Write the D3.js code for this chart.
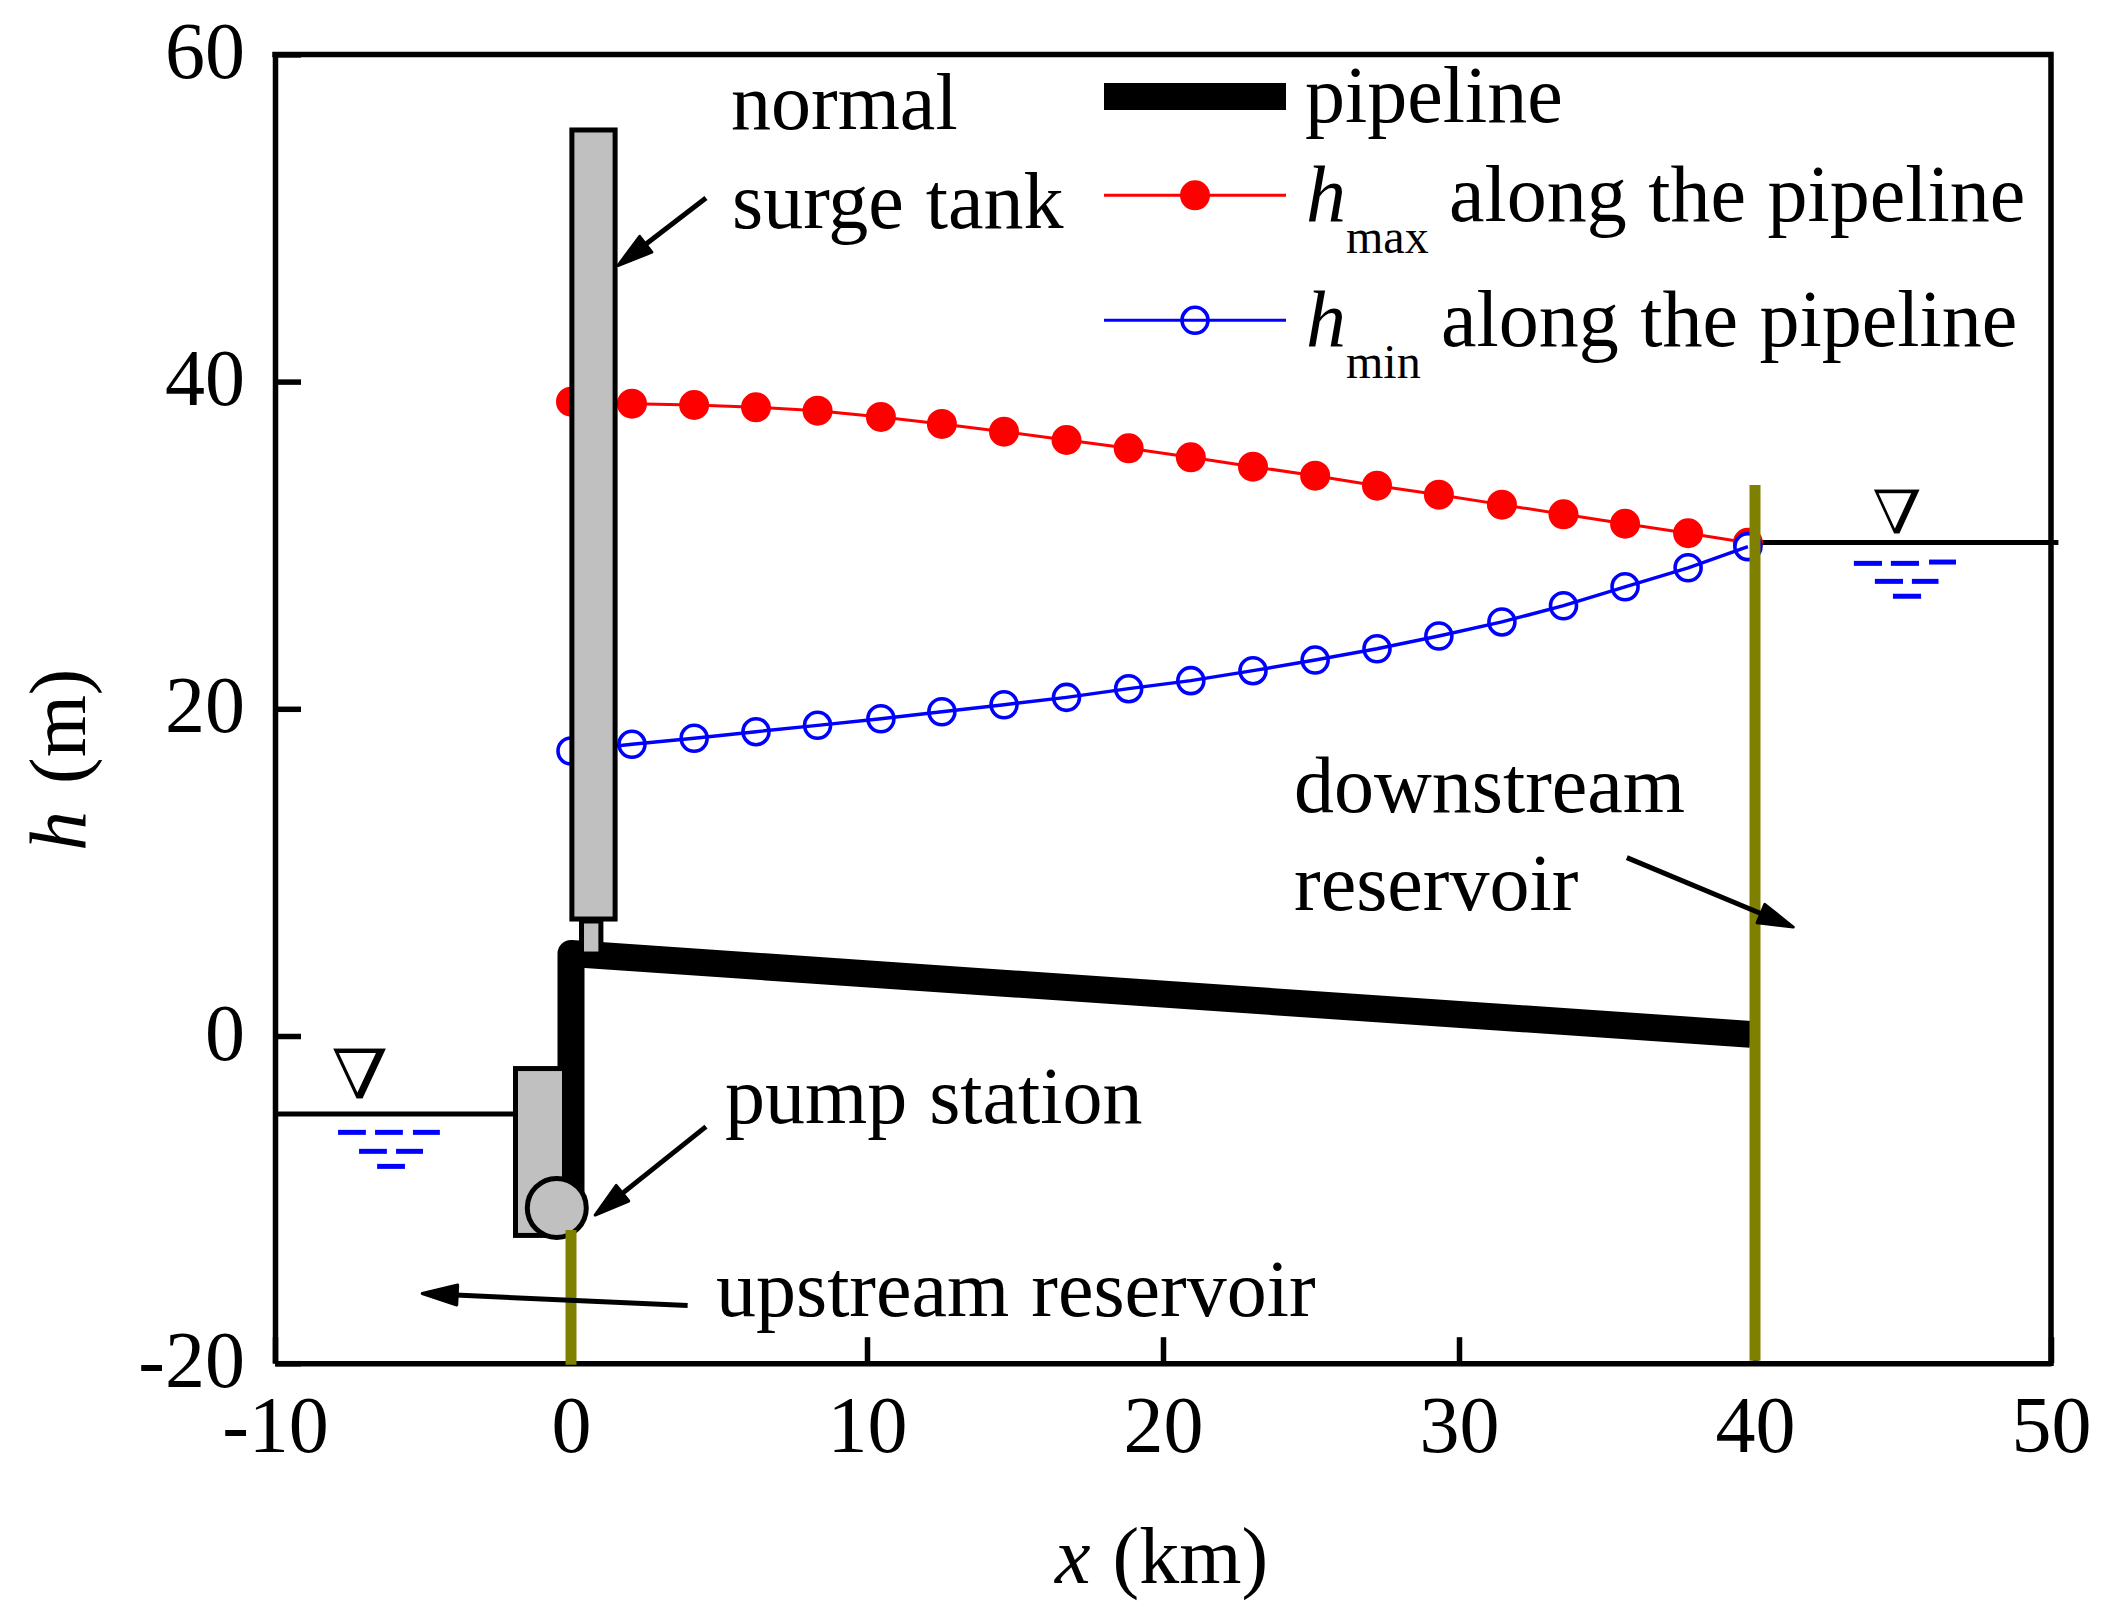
<!DOCTYPE html>
<html><head><meta charset="utf-8">
<script src="https://cdn.jsdelivr.net/npm/d3@7/dist/d3.min.js"></script>
<style>
html,body{margin:0;padding:0;background:#fff}
svg{display:block}
text{font-family:"Liberation Serif","Times New Roman",serif;font-size:80px;fill:#000}
</style></head><body>
<script>
const xTicks=[-10,0,10,20,30,40,50];
const yTicks=[-20,0,20,40,60];
const stations=[0,2.06,4.16,6.25,8.33,10.47,12.53,14.63,16.74,18.84,20.94,23.04,25.14,27.23,29.32,31.45,33.53,35.61,37.74,39.76];
const hMax=[38.77,38.65,38.57,38.43,38.22,37.84,37.41,36.94,36.43,35.92,35.37,34.8,34.25,33.64,33.09,32.48,31.89,31.31,30.73,30.15];
const hMin=[17.42,17.83,18.2,18.6,18.99,19.39,19.82,20.25,20.7,21.23,21.72,22.33,22.98,23.67,24.45,25.31,26.3,27.46,28.62,29.91];
const pipeline=[[0,-10.3],[0,5.04],[39.85,0.1]];
const tank=[0.03,1.49,7.15,55.38];
const stem=[0.355,1.01,5.01,7.03];
const pumpHouse=[-1.875,-0.22,-12.19,-1.99];
const pump=[-0.48,-10.51];
const upstreamWater=[[-10,-4.77],[-1.875,-4.77]];
const downstreamWater=[[39.8,30.17],[50.25,30.17]];
const upstreamRipples=[[-7.87,-6.93,-5.89],[-6.62,-5.68,-5.89],[-5.34,-4.43,-5.89],[-7.16,-6.22,-7.05],[-5.91,-5.0,-7.05],[-6.55,-5.61,-7.97]];
const downstreamRipples=[[43.34,44.29,28.89],[44.59,45.54,28.89],[45.88,46.79,28.97],[44.05,45.0,27.79],[45.3,46.2,27.79],[44.66,45.61,26.88]];
const reservoirWalls=[[0,-11.86,-20.1],[40,33.68,-19.85]];
const arrows=[[4.56,51.22,1.52,47.0],[4.56,-5.54,0.75,-11.04],[3.94,-16.48,-5.11,-15.73],[35.67,10.9,41.37,6.6]];
const labels=[["normal",731,129],["surge tank",732,228],["downstream",1294,812],["reservoir",1294,910],["pump station",725,1123],["upstream reservoir",716,1316]];

const W=2112,H=1616;
const x=d3.scaleLinear().domain([-10,50]).range([275,2051]);
const y=d3.scaleLinear().domain([-20,60]).range([1363.2,54.4]);
const svg=d3.select("body").append("svg").attr("width",W).attr("height",H).attr("viewBox",`0 0 ${W} ${H}`);
const line=d3.line().x(d=>x(d[0])).y(d=>y(d[1]));
const AW=5.5;

function rect(a,fill,sw){
  return svg.append("rect").attr("x",x(a[0])).attr("width",x(a[1])-x(a[0]))
    .attr("y",y(a[3])).attr("height",y(a[2])-y(a[3]))
    .attr("fill",fill).attr("stroke","#000").attr("stroke-width",sw);
}

// frame and axes
const gx=svg.append("g").attr("transform",`translate(0,${y(-20)})`)
  .call(d3.axisBottom(x).tickValues(xTicks).tickSize(-26).tickSizeOuter(0).tickFormat(d3.format("d")));
const gy=svg.append("g").attr("transform",`translate(${x(-10)},0)`)
  .call(d3.axisLeft(y).tickValues(yTicks).tickSize(-26).tickSizeOuter(0).tickFormat(d3.format("d")));
[gx,gy].forEach(g=>{
  g.selectAll("path.domain").attr("stroke","#000").attr("stroke-width",AW);
  g.selectAll(".tick line").attr("stroke","#000").attr("stroke-width",AW);
  g.selectAll("text").style("font-family",'"Liberation Serif"').style("font-size","80px").attr("fill","#000").text(function(){return d3.select(this).text().replace("\u2212","-");});
  g.attr("font-family",null).attr("font-size",null);
});
gx.selectAll("text").attr("y",89).attr("dy",0).attr("text-anchor","middle");
gy.selectAll("text").attr("x",-30).attr("dy",0).attr("y",23).attr("text-anchor","end");
svg.append("path").attr("d",`M${x(-10)},${y(60)}H${x(50)}V${y(-20)}`).attr("fill","none").attr("stroke","#000").attr("stroke-width",AW).attr("stroke-linecap","square");

// water levels
[upstreamWater,downstreamWater].forEach(w=>svg.append("path").attr("d",line(w)).attr("stroke","#000").attr("stroke-width",5).attr("fill","none"));
[...upstreamRipples,...downstreamRipples].forEach(r=>svg.append("line").attr("x1",x(r[0])).attr("x2",x(r[1])).attr("y1",y(r[2])).attr("y2",y(r[2])).attr("stroke","#0000ff").attr("stroke-width",5));

// series
const maxPts=stations.map((s,i)=>[s,hMax[i]]), minPts=stations.map((s,i)=>[s,hMin[i]]);
svg.append("path").attr("d",line(maxPts)).attr("fill","none").attr("stroke","#ff0000").attr("stroke-width",3);
svg.append("g").selectAll("circle").data(maxPts).join("circle").attr("cx",d=>x(d[0])).attr("cy",d=>y(d[1])).attr("r",15).attr("fill","#ff0000");
svg.append("g").selectAll("circle").data(minPts).join("circle").attr("cx",d=>x(d[0])).attr("cy",d=>y(d[1])).attr("r",13).attr("fill","#fff").attr("stroke","#0000ff").attr("stroke-width",3.6);
svg.append("path").attr("d",line(minPts)).attr("fill","none").attr("stroke","#0000ff").attr("stroke-width",3.4);

// schematic
svg.append("path").attr("d",line(pipeline)).attr("fill","none").attr("stroke","#000").attr("stroke-width",27).attr("stroke-linejoin","round");
rect(stem,"#c0c0c0",5);
rect(tank,"#c0c0c0",5);
rect(pumpHouse,"#c0c0c0",5);
svg.append("circle").attr("cx",x(pump[0])).attr("cy",y(pump[1])).attr("r",29.5).attr("fill","#c0c0c0").attr("stroke","#000").attr("stroke-width",5);
reservoirWalls.forEach(r=>svg.append("line").attr("x1",x(r[0])).attr("x2",x(r[0])).attr("y1",y(r[1])).attr("y2",y(r[2])).attr("stroke","#808000").attr("stroke-width",11));

// arrows
arrows.forEach(a=>{
  const x1=x(a[0]),y1=y(a[1]),x2=x(a[2]),y2=y(a[3]);
  const L=Math.hypot(x2-x1,y2-y1),ux=(x2-x1)/L,uy=(y2-y1)/L,h=35,w=10;
  const tx=x2-ux*2.5,ty=y2-uy*2.5;
  svg.append("line").attr("x1",x1).attr("y1",y1).attr("x2",tx-ux*h*0.8).attr("y2",ty-uy*h*0.8).attr("stroke","#000").attr("stroke-width",5);
  const bx=tx-ux*h,by=ty-uy*h;
  svg.append("polygon").attr("points",[[tx,ty],[bx-uy*w,by+ux*w],[bx+uy*w,by-ux*w]].join(" ")).attr("fill","#000").attr("stroke","#000").attr("stroke-width",3).attr("stroke-linejoin","round");
});

// annotations
labels.forEach(l=>svg.append("text").attr("x",l[1]).attr("y",l[2]).style("word-spacing","2px").text(l[0]));
svg.append("text").attr("transform","translate(330,1099) scale(1.22,1)").style("font-family",'"DejaVu Serif"').style("font-size","70px").attr("stroke","#fff").attr("stroke-width",1.2).text("\u2207");
svg.append("text").attr("transform","translate(1871,534) scale(1.2,1)").style("font-family",'"DejaVu Serif"').style("font-size","62px").attr("stroke","#fff").attr("stroke-width",1.2).text("\u2207");

// legend
svg.append("rect").attr("x",1104).attr("width",182).attr("y",83).attr("height",27).attr("fill","#000");
svg.append("text").attr("x",1305).attr("y",122).text("pipeline");
[[195.3,"#ff0000",true,"max",221,253,1449],[320.3,"#0000ff",false,"min",346,378,1441]].forEach(r=>{
  svg.append("line").attr("x1",1104).attr("x2",1286).attr("y1",r[0]).attr("y2",r[0]).attr("stroke",r[1]).attr("stroke-width",3);
  const c=svg.append("circle").attr("cx",1195).attr("cy",r[0]);
  if(r[2]) c.attr("r",15).attr("fill",r[1]); else c.attr("r",13).attr("fill","none").attr("stroke",r[1]).attr("stroke-width",3.6);
  svg.append("text").attr("x",1306).attr("y",r[4]).style("font-style","italic").text("h");
  svg.append("text").attr("x",1346).attr("y",r[5]).style("font-size","48px").text(r[3]);
  svg.append("text").attr("x",r[6]).attr("y",r[4]).style("word-spacing","1.5px").text("along the pipeline");
});

// axis titles
const xt=svg.append("text").attr("x",1055).attr("y",1583).style("word-spacing","2px");
xt.append("tspan").style("font-style","italic").text("x");
xt.append("tspan").text(" (km)");
const yt=svg.append("text").attr("transform","translate(85,851) rotate(-90)").style("word-spacing","7px");
yt.append("tspan").style("font-style","italic").text("h");
yt.append("tspan").text(" (m)");
</script>
</body></html>
